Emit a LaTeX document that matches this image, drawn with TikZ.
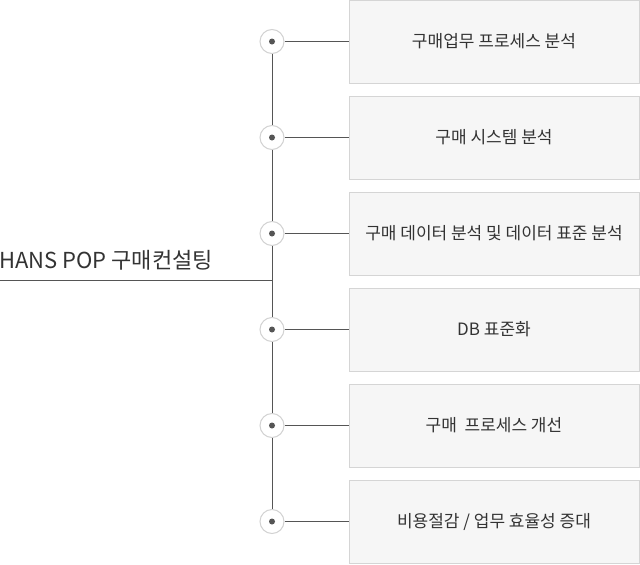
\documentclass[tikz,border=0pt]{standalone}
\usepackage{fontspec}
\setmainfont{Noto Sans CJK KR}
\usepackage{tikz}
\usetikzlibrary{positioning}
\usepackage{xcolor}
\definecolor{hpline}{RGB}{85,85,85}
\definecolor{hptext}{RGB}{51,51,51}
\definecolor{hpbox}{RGB}{246,246,246}
\definecolor{hpborder}{RGB}{213,213,213}
\definecolor{hpring}{RGB}{210,210,210}
\tikzstyle{link} = [color=hpline,line width=1pt]
\tikzstyle{task} = [rectangle, minimum width=290pt, minimum height=83pt, text centered, draw=hpborder, fill=hpbox, line width=1pt, text=hptext, font=\fontsize{17}{20}\selectfont]
\tikzstyle{joint} = [circle, minimum size=24pt, inner sep=0pt, draw=hpring, fill=white, line width=1pt]

\begin{document}
\begin{tikzpicture}[x=1pt, y=-1pt]
\useasboundingbox (0,0) rectangle (640,565);
% Task boxes
\node (t1) [task] at (494,41.5) {구매업무 프로세스 분석};
\node (t2) [task, below of=t1, node distance=96pt] {구매 시스템 분석};
\node (t3) [task, below of=t2, node distance=96pt] {구매 데이터 분석 및 데이터 표준 분석};
\node (t4) [task, below of=t3, node distance=96pt] {DB 표준화};
\node (t5) [task, below of=t4, node distance=96pt] {구매 \ 프로세스 개선};
\node (t6) [task, below of=t5, node distance=96pt] {비용절감 / 업무 효율성 증대};

% Joints on the spine
\node (j1) [joint] at (272,41.5) {};
\node (j2) [joint, below of=j1, node distance=96pt] {};
\node (j3) [joint, below of=j2, node distance=96pt] {};
\node (j4) [joint, below of=j3, node distance=96pt] {};
\node (j5) [joint, below of=j4, node distance=96pt] {};
\node (j6) [joint, below of=j5, node distance=96pt] {};
\foreach \j in {j1,j2,j3,j4,j5,j6}
  \fill[hpline] (\j) circle (3pt);

\draw[link] (j1) -- (t1);
\draw[link] (j2) -- (t2);
\draw[link] (j3) -- (t3);
\draw[link] (j4) -- (t4);
\draw[link] (j5) -- (t5);
\draw[link] (j6) -- (t6);
\draw[link] (j1) -- (j2) -- (j3) -- (j4) -- (j5) -- (j6);

% Title and its branch
\node (title) [anchor=base west, inner sep=0pt, text=hptext, font=\fontsize{22}{26}\selectfont] at (-1,268) {HANS POP 구매컨설팅};
\coordinate (left) at (0,280);
\coordinate (hub) at (272,280);
\draw[link] (left) -- (hub);
\end{tikzpicture}
\end{document}
